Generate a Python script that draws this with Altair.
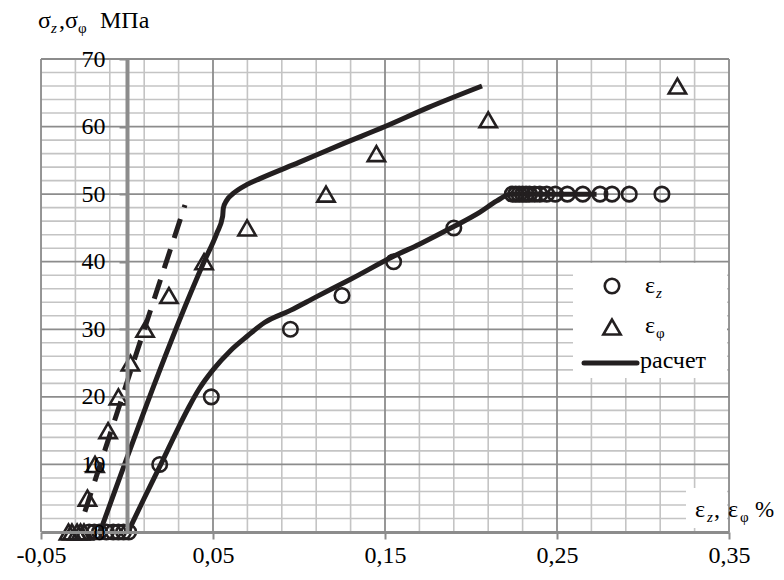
import altair as alt
import pandas as pd

# ---------------- data ----------------
ez_x = [-0.022, -0.019, -0.016, -0.012, -0.008, -0.005, -0.002, 0.001,
        0.019, 0.049, 0.095, 0.125, 0.155, 0.190,
        0.224, 0.226, 0.228, 0.230, 0.232, 0.234, 0.237, 0.240, 0.244, 0.249,
        0.256, 0.265, 0.275, 0.282, 0.292, 0.311]
ez_y = [0, 0, 0, 0, 0, 0, 0, 0,
        10, 20, 30, 35, 40, 45,
        50, 50, 50, 50, 50, 50, 50, 50, 50, 50,
        50, 50, 50, 50, 50, 50]

ephi_x = [-0.034, -0.032, -0.029, -0.027, -0.025, -0.023, -0.0186, -0.011, -0.005,
          0.002, 0.0105, 0.0244, 0.0448, 0.0698, 0.1157, 0.145, 0.210, 0.320]
ephi_y = [0, 0, 0, 0, 0, 5, 10, 15, 20,
          25, 30, 35, 40, 45, 50, 56, 61, 66]

calc_z_x = [0.0006, 0.010, 0.020, 0.030, 0.036, 0.042, 0.050, 0.060, 0.070, 0.080,
            0.095, 0.110, 0.130, 0.155, 0.170, 0.190, 0.205, 0.215, 0.223, 0.273]
calc_z_y = [0, 5, 10.2, 15.5, 18.5, 21.2, 24, 26.8, 29, 31,
            32.8, 34.8, 37.4, 40.8, 42.6, 45.2, 47.3, 49, 50, 50]

calc_phi_x = [-0.0157, 0.0448, 0.0522, 0.0556, 0.0560, 0.0580, 0.0618, 0.0696, 0.0773,
              0.100, 0.125, 0.150, 0.175, 0.2064]
calc_phi_y = [0, 40, 44.2, 46.7, 47.9, 49.1, 50.1, 51.4, 52.3,
              54.7, 57.4, 60, 62.8, 66]

calc_dash_x = [-0.0245, 0.0076, 0.0337]
calc_dash_y = [3, 28.1, 48.4]

x_ticks = [-0.05, 0.05, 0.15, 0.25, 0.35]
x_minor = [-0.03, -0.01, 0.01, 0.03, 0.07, 0.09, 0.11, 0.13,
           0.17, 0.19, 0.21, 0.23, 0.27, 0.29, 0.31, 0.33]
y_ticks = [0, 10, 20, 30, 40, 50, 60, 70]
y_major = [10, 20, 30, 40, 50, 60, 70]
y_minor = [2, 4, 6, 8, 12, 14, 16, 18, 22, 24, 26, 28, 32, 34, 36, 38,
           42, 44, 46, 48, 52, 54, 56, 58, 62, 64, 66, 68]

# ---------------- styling ----------------
W, H = 688, 473
INK = "#231f20"
FONT = "Liberation Serif"
MAJ = "#8c8c8c"
MIN = "#c4c4c4"

xs = alt.Scale(domain=[-0.05, 0.35], nice=False, zero=False)
ys = alt.Scale(domain=[0, 70], nice=False, zero=False)

x_axis = alt.Axis(values=x_ticks,
                  labelExpr="replace(replace(format(datum.value, '.2f'), '.', ','), '\u2212', '-')",
                  labelFont=FONT, labelFontSize=24, labelColor="black", labelPadding=4,
                  labelFlush=False, labelOverlap=False,
                  domainColor=MAJ, domainWidth=3, tickColor=MAJ, tickWidth=2, tickSize=7,
                  grid=False, title=None, zindex=1)
y_axis = alt.Axis(values=y_ticks, format="d", offset=-86,
                  labelFont=FONT, labelFontSize=24, labelColor="black", labelPadding=14,
                  labelFlush=False, labelOverlap=False,
                  domainColor=MAJ, domainWidth=4, tickColor=MAJ, tickWidth=2, tickSize=8,
                  grid=False, title=None, zindex=1)

X = alt.X("x:Q", scale=xs, axis=x_axis)
Y = alt.Y("y:Q", scale=ys, axis=y_axis)

one = pd.DataFrame({"k": [0]})

# grids
gx_min = alt.Chart(pd.DataFrame({"x": x_minor})).mark_rule(color=MIN, strokeWidth=1.6).encode(x=X)
gx_maj = alt.Chart(pd.DataFrame({"x": x_ticks})).mark_rule(color=MAJ, strokeWidth=1.8).encode(x=X)
gy_min = alt.Chart(pd.DataFrame({"y": y_minor})).mark_rule(color=MIN, strokeWidth=1.6).encode(y=Y)
gy_maj = alt.Chart(pd.DataFrame({"y": y_major})).mark_rule(color=MAJ, strokeWidth=1.8).encode(y=Y)

# white boxes (legend and x title)
box_leg = alt.Chart(one).mark_rect(color="white").encode(
    x=alt.value(532), x2=alt.value(686), y=alt.value(204), y2=alt.value(319))
box_xt = alt.Chart(one).mark_rect(color="white").encode(
    x=alt.value(645), x2=alt.value(686), y=alt.value(429), y2=alt.value(469))

def line_df(xv, yv):
    return pd.DataFrame({"x": xv, "y": yv, "i": list(range(len(xv)))})

l_z = alt.Chart(line_df(calc_z_x, calc_z_y)).mark_line(
    color=INK, strokeWidth=5, interpolate="monotone").encode(x=X, y=Y, order="i:Q")
l_phi = alt.Chart(line_df(calc_phi_x, calc_phi_y)).mark_line(
    color=INK, strokeWidth=5, interpolate="monotone").encode(x=X, y=Y, order="i:Q")
l_dash = alt.Chart(line_df(calc_dash_x, calc_dash_y)).mark_line(
    color=INK, strokeWidth=5, strokeDash=[20, 12]).encode(x=X, y=Y, order="i:Q")

p_z = alt.Chart(pd.DataFrame({"x": ez_x, "y": ez_y})).mark_point(
    shape="circle", size=210, filled=False, color=INK, strokeWidth=2.6, opacity=1).encode(x=X, y=Y)
p_phi = alt.Chart(pd.DataFrame({"x": ephi_x, "y": ephi_y})).mark_point(
    shape="triangle-up", size=300, filled=False, color=INK, strokeWidth=2.6, opacity=1).encode(x=X, y=Y)

# legend
lg_c = alt.Chart(one).mark_point(shape="circle", size=210, filled=False, color=INK,
                                 strokeWidth=2.6, opacity=1).encode(
    x=alt.value(571), y=alt.value(227))
lg_t = alt.Chart(one).mark_point(shape="triangle-up", size=300, filled=False, color=INK,
                                 strokeWidth=2.6, opacity=1).encode(
    x=alt.value(571), y=alt.value(268))
lg_l = alt.Chart(one).mark_rule(color=INK, strokeWidth=5, strokeCap="round").encode(
    x=alt.value(543), x2=alt.value(596), y=alt.value(304))

def txt(s, x, y, size=24, italic=False):
    kw = dict(text=s, font=FONT, fontSize=size, color="black", align="left",
              baseline="alphabetic")
    if italic:
        kw["fontStyle"] = "italic"
    return alt.Chart(one).mark_text(**kw).encode(x=alt.value(x), y=alt.value(y))

texts = [
    # legend labels
    txt("ε", 604, 234), txt("z", 615, 239, 15, True),
    txt("ε", 604, 274), txt("φ", 615, 279, 15),
    txt("расчет", 599, 309),
    # y title
    txt("σ", -3, -31), txt("z", 10, -26, 15, True), txt(",", 18, -31),
    txt("σ", 24, -31), txt("φ", 37, -26, 15), txt("МПа", 59, -31),
    # x title
    txt("ε", 654, 458), txt("z", 666, 463, 15, True), txt(",", 673, 458),
    txt("ε", 687, 458), txt("φ", 699, 463, 15), txt("%", 714, 458, 23),
]

chart = alt.layer(
    gx_min, gy_min, gx_maj, gy_maj, box_leg, box_xt,
    l_z, l_phi, l_dash, p_phi, p_z,
    lg_c, lg_t, lg_l, *texts
).properties(
    width=W, height=H,
    autosize=alt.AutoSizeParams(type="none"),
    padding={"left": 33, "top": 51, "right": 47, "bottom": 40},
).configure_view(stroke=None).configure(
    background="white"
).configure_axis(labelFont=FONT, labelFontSize=24, labelColor="black")

chart.save("out.html", embed_options={"renderer": "svg", "actions": False})
